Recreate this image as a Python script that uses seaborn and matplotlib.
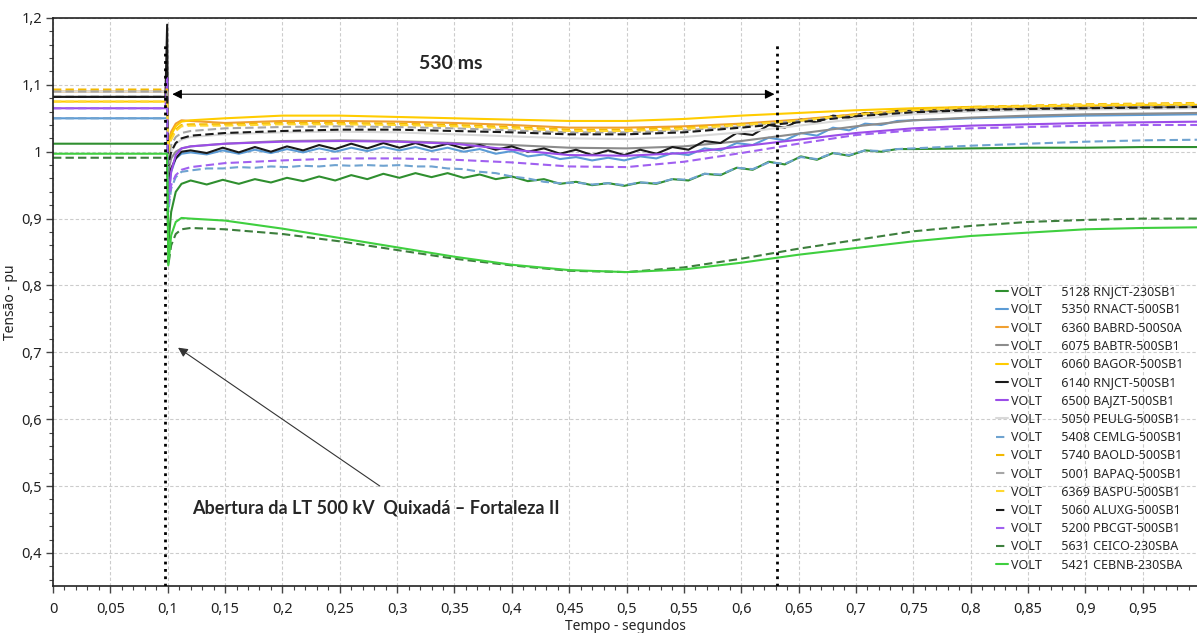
import numpy as np
import pandas as pd
import matplotlib.pyplot as plt
import seaborn as sns
from matplotlib.ticker import MultipleLocator, FuncFormatter

# Estilo
sns.set_theme(style='ticks')
plt.rcParams['font.family'] = ['Noto Sans', 'DejaVu Sans']

# Tempos (s) - grade grossa e grade fina (curvas com oscilação)
T_COARSE = [0.0, 0.098, 0.0995, 0.1005, 0.103, 0.107, 0.112,
            0.12, 0.15, 0.2, 0.25, 0.3, 0.35, 0.4, 0.45, 0.5, 0.55, 0.6,
            0.65, 0.7, 0.75, 0.8, 0.85, 0.9, 0.95, 1.0]
T_FINE = [0.0, 0.098, 0.0995, 0.1005, 0.103, 0.107, 0.112,
          0.120, 0.134, 0.148, 0.162, 0.176, 0.190, 0.204, 0.218, 0.232, 0.246,
          0.260, 0.274, 0.288, 0.302, 0.316, 0.330, 0.344, 0.358, 0.372, 0.386,
          0.400, 0.414, 0.428, 0.442, 0.456, 0.470, 0.484, 0.498, 0.512, 0.526,
          0.540, 0.554, 0.568, 0.582, 0.596, 0.610, 0.624, 0.638, 0.652, 0.666,
          0.680, 0.694, 0.708, 0.722, 0.736, 0.750,
          0.8, 0.85, 0.9, 0.95, 1.0]

# Tensões (pu)
v_5128 = [1.012, 1.012, 1.012, 0.860, 0.910, 0.940, 0.952,
          0.957, 0.951, 0.958, 0.952, 0.959, 0.954, 0.961, 0.956, 0.963, 0.957,
          0.965, 0.959, 0.967, 0.961, 0.968, 0.962, 0.968, 0.961, 0.966, 0.959,
          0.963, 0.956, 0.959, 0.952, 0.955, 0.950, 0.953, 0.949, 0.954, 0.952,
          0.959, 0.957, 0.967, 0.965, 0.976, 0.973, 0.985, 0.981, 0.993, 0.988,
          0.998, 0.994, 1.002, 1.000, 1.004, 1.004,
          1.005, 1.006, 1.006, 1.007, 1.007]
v_5350 = [1.050, 1.050, 1.050, 0.930, 0.970, 0.990, 0.997,
          0.999, 0.996, 1.002, 0.997, 1.003, 0.998, 1.004, 0.999, 1.005, 1.000,
          1.006, 1.001, 1.007, 1.002, 1.007, 1.001, 1.006, 1.000, 1.004, 0.997,
          1.001, 0.993, 0.996, 0.989, 0.992, 0.987, 0.991, 0.987, 0.993, 0.990,
          0.998, 0.995, 1.005, 1.002, 1.013, 1.010, 1.021, 1.017, 1.028, 1.024,
          1.036, 1.032, 1.042, 1.040, 1.046, 1.047,
          1.050, 1.052, 1.054, 1.055, 1.056]
v_6360 = [1.090, 1.090, 1.090, 1.010, 1.030, 1.042, 1.047,
          1.046, 1.043, 1.046, 1.046, 1.045, 1.043, 1.040, 1.036, 1.036, 1.038,
          1.042, 1.048, 1.056, 1.062, 1.065, 1.067, 1.068, 1.069, 1.070]
v_6075 = [1.082, 1.082, 1.082, 0.970, 0.990, 1.000, 1.005,
          1.008, 1.012, 1.016, 1.017, 1.016, 1.013, 1.010, 1.006, 1.005, 1.008,
          1.016, 1.027, 1.038, 1.047, 1.051, 1.054, 1.056, 1.057, 1.058]
v_6060 = [1.075, 1.075, 1.075, 1.010, 1.025, 1.038, 1.045,
          1.047, 1.050, 1.054, 1.054, 1.052, 1.050, 1.048, 1.046, 1.046, 1.049,
          1.054, 1.058, 1.062, 1.065, 1.067, 1.068, 1.069, 1.070, 1.070]
v_6140 = [1.082, 1.082, 1.190, 0.950, 0.975, 0.990, 1.000,
          1.002, 0.998, 1.006, 0.999, 1.007, 1.000, 1.008, 1.002, 1.010, 1.004,
          1.012, 1.005, 1.013, 1.006, 1.013, 1.006, 1.012, 1.005, 1.010, 1.003,
          1.008, 1.000, 1.005, 0.997, 1.003, 0.995, 1.002, 0.995, 1.003, 0.997,
          1.007, 1.003, 1.016, 1.013, 1.028, 1.025, 1.040, 1.036, 1.048, 1.044,
          1.054, 1.051, 1.058, 1.056, 1.061, 1.061,
          1.063, 1.064, 1.065, 1.066, 1.066]
v_6500 = [1.065, 1.065, 1.110, 0.930, 0.970, 0.995, 1.005,
          1.008, 1.012, 1.015, 1.016, 1.015, 1.012, 1.003, 0.995, 0.994, 0.998,
          1.008, 1.018, 1.028, 1.035, 1.039, 1.041, 1.043, 1.044, 1.045]
v_5050 = [1.090, 1.090, 1.090, 0.980, 1.000, 1.012, 1.018,
          1.022, 1.026, 1.029, 1.030, 1.029, 1.026, 1.023, 1.020, 1.019, 1.022,
          1.029, 1.039, 1.049, 1.056, 1.060, 1.062, 1.063, 1.064, 1.065]
v_5408 = [1.050, 1.050, 1.050, 0.910, 0.945, 0.962, 0.970,
          0.972, 0.975, 0.975, 0.977, 0.976, 0.978, 0.977, 0.979, 0.978, 0.980,
          0.979, 0.980, 0.979, 0.980, 0.978, 0.978, 0.975, 0.974, 0.970, 0.968,
          0.963, 0.960, 0.955, 0.953, 0.954, 0.951, 0.953, 0.950, 0.954, 0.953,
          0.959, 0.958, 0.967, 0.966, 0.976, 0.974, 0.984, 0.982, 0.992, 0.989,
          0.998, 0.995, 1.002, 1.001, 1.004, 1.005,
          1.009, 1.012, 1.015, 1.017, 1.018]
v_5740 = [1.093, 1.093, 1.093, 1.000, 1.020, 1.033, 1.040,
          1.041, 1.041, 1.043, 1.043, 1.042, 1.040, 1.037, 1.033, 1.033, 1.036,
          1.041, 1.047, 1.056, 1.063, 1.067, 1.069, 1.071, 1.072, 1.073]
v_5001 = [1.090, 1.090, 1.090, 0.990, 1.010, 1.022, 1.028,
          1.031, 1.035, 1.037, 1.038, 1.037, 1.035, 1.032, 1.029, 1.029, 1.032,
          1.038, 1.046, 1.054, 1.060, 1.063, 1.065, 1.066, 1.067, 1.068]
v_6369 = [1.075, 1.075, 1.075, 1.000, 1.018, 1.031, 1.038,
          1.039, 1.039, 1.041, 1.041, 1.040, 1.038, 1.035, 1.031, 1.031, 1.034,
          1.040, 1.046, 1.055, 1.062, 1.066, 1.068, 1.070, 1.071, 1.072]
v_5060 = [1.082, 1.082, 1.082, 0.980, 1.000, 1.013, 1.020,
          1.024, 1.028, 1.031, 1.033, 1.033, 1.031, 1.029, 1.026, 1.026, 1.029,
          1.036, 1.044, 1.053, 1.059, 1.062, 1.064, 1.065, 1.066, 1.067]
v_5200 = [1.065, 1.065, 1.065, 0.920, 0.950, 0.965, 0.973,
          0.977, 0.983, 0.987, 0.990, 0.990, 0.988, 0.984, 0.978, 0.977, 0.985,
          0.998, 1.012, 1.025, 1.032, 1.035, 1.037, 1.039, 1.040, 1.040]
v_5631 = [0.991, 0.991, 0.991, 0.830, 0.860, 0.877, 0.884,
          0.886, 0.884, 0.877, 0.866, 0.853, 0.840, 0.830, 0.822, 0.820, 0.827,
          0.840, 0.855, 0.868, 0.881, 0.889, 0.895, 0.898, 0.900, 0.900]
v_5421 = [0.997, 0.997, 0.997, 0.830, 0.875, 0.895, 0.901,
          0.900, 0.897, 0.885, 0.871, 0.857, 0.843, 0.831, 0.823, 0.820, 0.824,
          0.834, 0.846, 0.856, 0.866, 0.874, 0.879, 0.884, 0.886, 0.887]

BARRAS = ['5128 RNJCT-230SB1', '5350 RNACT-500SB1', '6360 BABRD-500S0A',
          '6075 BABTR-500SB1', '6060 BAGOR-500SB1', '6140 RNJCT-500SB1',
          '6500 BAJZT-500SB1', '5050 PEULG-500SB1', '5408 CEMLG-500SB1',
          '5740 BAOLD-500SB1', '5001 BAPAQ-500SB1', '6369 BASPU-500SB1',
          '5060 ALUXG-500SB1', '5200 PBCGT-500SB1', '5631 CEICO-230SBA',
          '5421 CEBNB-230SBA']
VALORES = [v_5128, v_5350, v_6360, v_6075, v_6060, v_6140, v_6500, v_5050,
           v_5408, v_5740, v_5001, v_6369, v_5060, v_5200, v_5631, v_5421]

T_ABERTURA = 0.098
T_FIM = 0.631

# Cores e tracejados
cores = ['#2f8f2f', '#5b9bd5', '#f0a030', '#8c8c8c', '#ffcc00', '#1a1a1a',
         '#9b4de8', '#d9d9d9', '#6fa3d0', '#f2b800', '#a6a6a6', '#ffd830',
         '#1a1a1a', '#a060f0', '#3d7f3d', '#3fcf3f']
tracejado = [False] * 8 + [True] * 7 + [False]

# Montando o DataFrame
ESPACO = '      '
partes = []
for barra, vals in zip(BARRAS, VALORES):
    t = T_FINE if len(vals) == len(T_FINE) else T_COARSE
    partes.append(pd.DataFrame({'t': t, 'v': vals,
                                'serie': 'VOLT' + ESPACO + barra}))
df = pd.concat(partes, ignore_index=True)
nomes = ['VOLT' + ESPACO + b for b in BARRAS]
paleta = dict(zip(nomes, cores))
dashes = {n: ((4, 2) if d else '') for n, d in zip(nomes, tracejado)}

fig = plt.figure(figsize=(11.97, 6.33), dpi=100)
ax = fig.add_axes([0.0443, 0.0736, 0.9557, 0.8980])

sns.lineplot(data=df, x='t', y='v', hue='serie', style='serie',
             hue_order=nomes, style_order=nomes, palette=paleta, dashes=dashes,
             estimator=None, sort=False, linewidth=1.5, ax=ax)

# Eixos
ax.set_xlim(0, 0.9974)
ax.set_ylim(0.35, 1.2)
ax.xaxis.set_major_locator(MultipleLocator(0.05))
ax.xaxis.set_minor_locator(MultipleLocator(0.01))
ax.yaxis.set_major_locator(MultipleLocator(0.1))
ax.yaxis.set_minor_locator(MultipleLocator(0.02))
fmt = FuncFormatter(lambda x, pos: f'{x:.2f}'.rstrip('0').rstrip('.').replace('.', ','))
ax.xaxis.set_major_formatter(fmt)
ax.yaxis.set_major_formatter(fmt)
ax.tick_params(which='major', direction='out', length=5, width=1, color='#444444',
               labelsize=10.5, labelcolor='#222222')
ax.tick_params(axis='y', which='major', pad=3)
ax.tick_params(axis='x', which='major', pad=6)
ax.tick_params(which='minor', direction='out', length=3, width=0.8, color='#444444')
ax.grid(True, which='major', color='#cccccc', linestyle=(0, (3, 2)), linewidth=0.8)
for s in ['left', 'bottom', 'top']:
    ax.spines[s].set_color('#222222')
    ax.spines[s].set_linewidth(1.2)
ax.spines['right'].set_visible(False)
ax.set_xlabel('Tempo - segundos', fontsize=10, color='#222222', labelpad=2)
ax.set_ylabel('Tensão - pu', fontsize=10, color='#222222')
ax.yaxis.set_label_coords(-0.031, 0.5)

# Anotações
ax.vlines(T_ABERTURA, 0.35, 1.16, colors='black', linestyles=':', linewidth=2, zorder=5)
ax.vlines(T_FIM, 0.35, 1.162, colors='black', linestyles=':', linewidth=2, zorder=5)
ax.annotate('', xy=(0.104, 1.086), xytext=(0.629, 1.086),
            arrowprops=dict(arrowstyle='<|-|>', color='black', lw=0.8,
                            mutation_scale=14, shrinkA=0, shrinkB=0))
ax.text(0.347, 1.132, '530 ms', ha='center', va='center', fontsize=14,
        fontweight='bold', family=['Lato', 'DejaVu Sans'])
ax.annotate('', xy=(0.109, 0.707), xytext=(0.285, 0.50),
            arrowprops=dict(arrowstyle='-|>', color='#333333', lw=0.8,
                            mutation_scale=14, shrinkA=0, shrinkB=0))
ax.text(0.121, 0.467, 'Abertura da LT 500 kV  Quixadá – Fortaleza II', ha='left',
        va='center', fontsize=13, fontweight='bold', family=['Lato', 'DejaVu Sans'])

# Legenda
handles, labels = ax.get_legend_handles_labels()
pares = [(h, l) for h, l in zip(handles, labels) if l in nomes]
ax.legend([p[0] for p in pares], [p[1] for p in pares], loc='upper left',
          bbox_to_anchor=(996 / 1197, 1 - 285 / 633), bbox_transform=fig.transFigure,
          frameon=False, fontsize=9, handlelength=0.95, handletextpad=0.25,
          labelspacing=0.42, borderpad=0, borderaxespad=0)

plt.savefig('out.png', dpi=100)
